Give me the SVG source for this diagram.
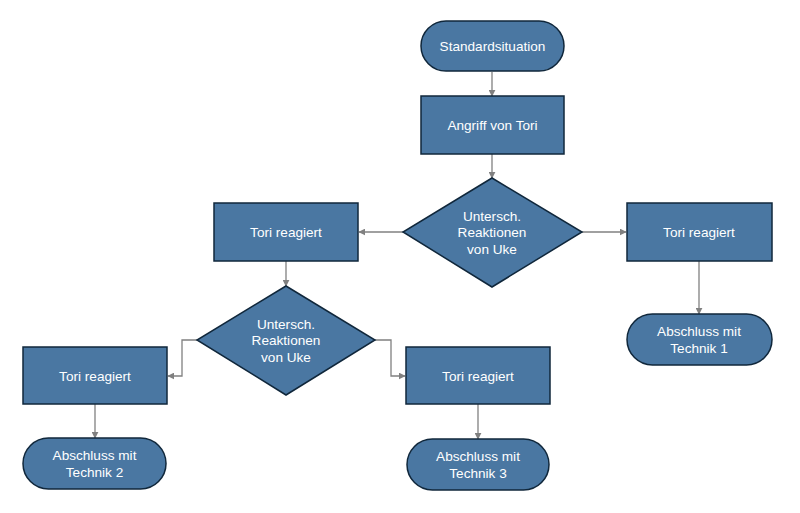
<svg xmlns="http://www.w3.org/2000/svg" width="800" height="513" viewBox="0 0 800 513">
<defs>
<style>
.n{fill:#4a77a2;stroke:#10273b;stroke-width:1.5}
.t{fill:#fff;font-family:"Liberation Sans",Arial,sans-serif;font-size:13.6px;text-anchor:middle;dominant-baseline:central}
.c{fill:none;stroke:#808080;stroke-width:1.3;marker-end:url(#ah)}
</style>
<marker id="ah" viewBox="0 0 10 10" refX="9" refY="5" markerWidth="7" markerHeight="7" markerUnits="userSpaceOnUse" orient="auto">
<path d="M0,0 L10,5 L0,10 z" fill="#808080"/>
</marker>
</defs>
<rect width="800" height="513" fill="#fff"/>
<g id="connectors">
<path class="c" d="M492,72 V96"/>
<path class="c" d="M492,154 V178"/>
<path class="c" d="M403,232 H359"/>
<path class="c" d="M582,232 H626"/>
<path class="c" d="M286,261 V286"/>
<path class="c" d="M699,261 V314"/>
<path class="c" d="M197,340 H182 V376 H168"/>
<path class="c" d="M375,340 H391 V376 H405"/>
<path class="c" d="M95,404 V438"/>
<path class="c" d="M478,404 V439"/>
</g>
<g id="start">
<rect class="n" x="421" y="21" width="143" height="50" rx="25"/>
<text class="t" x="492.5" y="46">Standardsituation</text>
</g>
<g id="angriff">
<rect class="n" x="421" y="96" width="143" height="58"/>
<text class="t" x="492.5" y="125">Angriff von Tori</text>
</g>
<g id="decision1">
<polygon class="n" points="492,178 582,232 492,287 403,232"/>
<text class="t" x="492" y="216">Untersch.</text>
<text class="t" x="492" y="232.5">Reaktionen</text>
<text class="t" x="492" y="249">von Uke</text>
</g>
<g id="tori-left">
<rect class="n" x="214" y="203" width="144" height="58"/>
<text class="t" x="286" y="232">Tori reagiert</text>
</g>
<g id="tori-right">
<rect class="n" x="627" y="203" width="145" height="58"/>
<text class="t" x="699" y="232">Tori reagiert</text>
</g>
<g id="end1">
<rect class="n" x="627" y="314" width="145" height="51" rx="25.5"/>
<text class="t" x="699" y="331">Abschluss mit</text>
<text class="t" x="699" y="348">Technik 1</text>
</g>
<g id="decision2">
<polygon class="n" points="286,286 375,340 286,395 197,340"/>
<text class="t" x="286" y="324">Untersch.</text>
<text class="t" x="286" y="340.5">Reaktionen</text>
<text class="t" x="286" y="357">von Uke</text>
</g>
<g id="tori-2">
<rect class="n" x="23" y="347" width="144" height="57"/>
<text class="t" x="95" y="376">Tori reagiert</text>
</g>
<g id="tori-3">
<rect class="n" x="406" y="347" width="144" height="57"/>
<text class="t" x="478" y="376">Tori reagiert</text>
</g>
<g id="end2">
<rect class="n" x="23" y="438" width="143" height="51" rx="25.5"/>
<text class="t" x="94.5" y="455">Abschluss mit</text>
<text class="t" x="94.5" y="472">Technik 2</text>
</g>
<g id="end3">
<rect class="n" x="407" y="439" width="142" height="51" rx="25.5"/>
<text class="t" x="478" y="456">Abschluss mit</text>
<text class="t" x="478" y="473">Technik 3</text>
</g>
</svg>
